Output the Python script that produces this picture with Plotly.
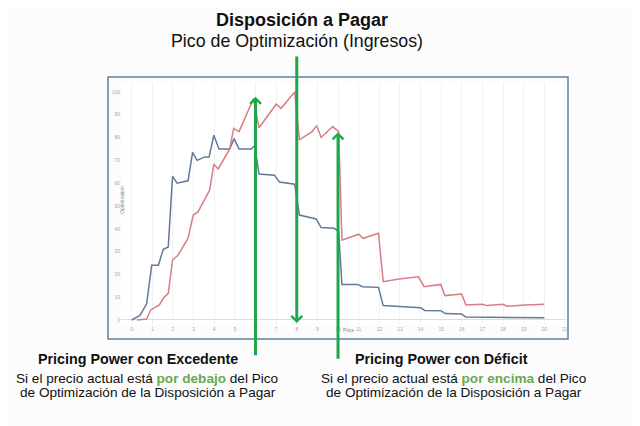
import plotly.graph_objects as go

# datos (precio vs optimizacion)
blue_x = [0, 0.4, 0.72, 0.97, 1.29, 1.53, 1.77, 1.98, 2.2, 2.73, 2.95, 3.17, 3.54, 3.75,
          3.98, 4.23, 4.75, 4.96, 5.2, 5.8, 5.96, 6.17, 6.92, 7.16, 7.9, 8.13, 8.94, 9.18,
          9.82, 10.03, 10.19, 10.95, 11.19, 11.96, 12.19, 12.96, 14.0, 14.2, 14.98, 15.2,
          15.99, 16.2, 20.0]
blue_y = [0, 2, 7, 24, 24, 31, 32, 63, 60, 61, 73.5, 70, 71.5, 71.5,
          81, 75, 75, 79.5, 75, 75, 76.5, 64, 63.5, 60.5, 59.5, 46, 44.3, 40.5,
          40.2, 38.7, 15.6, 15.6, 14.6, 14.3, 6.3, 6, 5.4, 4.2, 4.1, 2.8,
          2.6, 1.3, 1.0]

red_x = [0.25, 0.72, 0.92, 1.34, 1.53, 1.77, 1.98, 2.25, 2.73, 2.98, 3.22, 3.78, 3.98,
         4.19, 4.75, 4.94, 5.2, 5.9, 6.17, 7.0, 7.24, 7.9, 8.13, 8.45, 8.74, 8.97, 9.18,
         9.74, 10.03, 10.19, 11.0, 11.22, 11.96, 12.19, 12.96, 13.9, 14.17, 14.98, 15.18,
         15.99, 16.2, 16.99, 17.23, 17.98, 18.2, 19.08, 20.0]
red_y = [0, 0.4, 4.4, 6.6, 9.5, 11.7, 26.3, 28.5, 35.8, 46, 47.5, 57, 68.3,
         66.2, 75, 84, 82.6, 97, 84.3, 94.6, 92.8, 100, 79, 81, 82.6, 85.2, 80,
         84.8, 82.6, 35, 37.6, 35.8, 38, 16.8, 18, 18.9, 14.6, 15.6, 10.7,
         11.4, 6.6, 6.9, 6.3, 6.9, 6, 6.6, 6.9]

# flechas: precio y punta de cada flecha
arrow_x = [6, 8, 10]
arrow_y = [97.9, -1.3, 82.3]

x_ticks = list(range(0, 22))
y_ticks = list(range(0, 101, 10))

GREEN = "#1fa64b"
FONT = "Liberation Sans"

# la pagina se dibuja con 8px de margen del body
OFF = 8
W, H = 640, 426
L, R, T, B = 121 - OFF, 74 + OFF, 83 - OFF, 101 + OFF


def px2paper(px, py):
    px, py = px - OFF, py - OFF
    return (px - L) / (W - L - R), (H - B - py) / (H - T - B)


fig = go.Figure()
fig.add_trace(go.Scatter(x=blue_x, y=blue_y, mode="lines",
                         line=dict(color="#62799a", width=1.5), showlegend=False))
fig.add_trace(go.Scatter(x=red_x, y=red_y, mode="lines",
                         line=dict(color="#d97d86", width=1.5), showlegend=False))

# flechas verdes (la cola en pixeles)
tails = [260, -268, 228]
for xa, ya, t in zip(arrow_x, arrow_y, tails):
    fig.add_annotation(x=xa, y=ya, xref="x", yref="y", ax=0, ay=t,
                       axref="pixel", ayref="pixel", text="", showarrow=True,
                       arrowhead=4, arrowsize=0.7, arrowwidth=3, arrowcolor=GREEN)

# textos
texts = [
    (302, 20, "<b>Disposición a Pagar</b>", 18),
    (297, 41, "Pico de Optimización (Ingresos)", 17.8),
    (138, 359, "<b>Pricing Power con Excedente</b>", 14.3),
    (147, 378, "Si el precio actual está <b><span style='color:#6aa84f'>por debajo</span></b> del Pico", 13.6),
    (148, 392, "de Optimización de la Disposición a Pagar", 13.6),
    (441, 359, "<b>Pricing Power con Déficit</b>", 14.3),
    (453, 378, "Si el precio actual está <b><span style='color:#6aa84f'>por encima</span></b> del Pico", 13.6),
    (454, 392, "de Optimización de la Disposición a Pagar", 13.6),
]
for px, py, txt, sz in texts:
    xp, yp = px2paper(px, py)
    fig.add_annotation(x=xp, y=yp, xref="paper", yref="paper", text=txt,
                       showarrow=False, xanchor="center", yanchor="middle",
                       font=dict(family=FONT, size=sz, color="#111111"))

# titulos de ejes pequenos
xp, yp = px2paper(349, 335)
fig.add_annotation(x=xp, y=yp, xref="paper", yref="paper", text="Price", showarrow=False,
                   font=dict(family=FONT, size=5, color="#888888"))
xp, yp = px2paper(117, 200)
fig.add_annotation(x=xp, y=yp, xref="paper", yref="paper", text="Optimization",
                   showarrow=False, textangle=-90,
                   font=dict(family=FONT, size=5, color="#888888"))

# marco alrededor del grafico
x0, y0 = px2paper(108, 339)
x1, y1 = px2paper(568, 77)
fig.add_shape(type="rect", xref="paper", yref="paper", x0=x0, y0=y0, x1=x1, y1=y1,
              line=dict(color="#637f99", width=1.5), layer="below")

fig.update_xaxes(range=[-0.52, 21.05], tickvals=x_ticks, ticktext=[str(v) for v in x_ticks],
                 tickfont=dict(size=5, color="#a8a8a8", family=FONT),
                 showgrid=True, gridcolor="#f2f2f2", gridwidth=1, zeroline=False,
                 showline=False, ticks="")
fig.update_yaxes(range=[-2.2, 103.9], tickvals=y_ticks, ticktext=[str(v) for v in y_ticks],
                 tickfont=dict(size=5, color="#a8a8a8", family=FONT),
                 showgrid=False, zeroline=True, zerolinecolor="#dddddd", zerolinewidth=1,
                 showline=False, ticks="")

fig.update_layout(width=W, height=H, margin=dict(l=L, r=R, t=T, b=B),
                  paper_bgcolor="#fcfcfc", plot_bgcolor="#ffffff",
                  font=dict(family=FONT))

fig.write_html("out.html")
